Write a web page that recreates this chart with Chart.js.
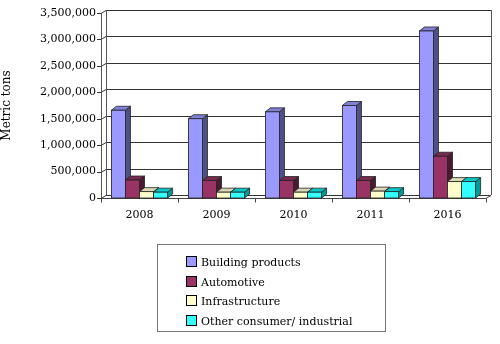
<!DOCTYPE html>
<html>
<head>
<meta charset="utf-8">
<script src="https://cdn.jsdelivr.net/npm/chart.js@4"></script>
<style>
    body { margin: 0; background: #fff; }
    #wrap { position: relative; width: 500px; height: 344px; }
    #legend {
        position: absolute; left: 157px; top: 244px; width: 229px; height: 88px;
        border: 1px solid #777; box-sizing: border-box;
        font: 11px "DejaVu Serif", serif; color: #000; padding-top: 8px;
    }
    .item { height: 19.5px; line-height: 19.5px; padding-left: 28px; white-space: nowrap; }
    .box { display: inline-block; width: 9px; height: 9px; border: 1px solid #000; margin-right: 4px; vertical-align: -1px; }
</style>
</head>
<body>
<div id="wrap">
    <canvas id="chart" width="500" height="344"></canvas>
    <div id="legend"></div>
</div>
<script>
// データ
const years = ['2008', '2009', '2010', '2011', '2016'];
const seriesNames = ['Building products', 'Automotive', 'Infrastructure', 'Other consumer/ industrial'];
const buildingProducts = [1660000, 1500000, 1630000, 1750000, 3160000];
const automotive = [340000, 330000, 330000, 330000, 790000];
const infrastructure = [120000, 110000, 110000, 130000, 310000];
const otherConsumer = [110000, 110000, 110000, 120000, 310000];
const yTicks = [0, 500000, 1000000, 1500000, 2000000, 2500000, 3000000, 3500000];

// 色（前面・側面・上面）
const frontColors = ['#9999ff', '#993366', '#ffffcc', '#33ffff'];
const sideColors = ['#505088', '#4a1a30', '#a8a888', '#009a9a'];
const topColors = ['#8080d8', '#7a2a50', '#dcd8b4', '#00caca'];

const FONT = '"DejaVu Serif", serif';
const WALL_DX = 5, WALL_DY = 3;   // 背面の奥行き
const BAR_DX = 5, BAR_DY = 4;     // 棒の奥行き

// 凡例（HTML）
const legend = document.getElementById('legend');
seriesNames.forEach((name, i) => {
    const div = document.createElement('div');
    div.className = 'item';
    div.innerHTML = '<span class="box" style="background:' + frontColors[i] + '"></span>' + name;
    legend.appendChild(div);
});

// 背面の壁とグリッド線
const wallPlugin = {
    id: 'wall',
    beforeDatasetsDraw(chart) {
        const { ctx, chartArea: a, scales: { x, y } } = chart;
        ctx.save();
        ctx.lineWidth = 1;
        // グリッド線
        ctx.strokeStyle = '#333';
        yTicks.forEach(v => {
            const py = Math.round(y.getPixelForValue(v)) + 0.5;
            ctx.beginPath();
            ctx.moveTo(a.left - 4, py);
            ctx.lineTo(a.left, py);
            ctx.lineTo(a.left + WALL_DX, py - WALL_DY);
            ctx.lineTo(a.right + WALL_DX, py - WALL_DY);
            ctx.stroke();
        });
        // 壁の枠
        ctx.strokeStyle = '#555';
        ctx.beginPath();
        ctx.moveTo(a.left + 0.5, a.top);
        ctx.lineTo(a.left + 0.5, a.bottom);
        ctx.moveTo(a.left + WALL_DX + 0.5, a.top - WALL_DY);
        ctx.lineTo(a.left + WALL_DX + 0.5, a.bottom - WALL_DY);
        ctx.moveTo(a.right + WALL_DX + 0.5, a.top - WALL_DY);
        ctx.lineTo(a.right + WALL_DX + 0.5, a.bottom - WALL_DY);
        ctx.stroke();
        // 床
        ctx.strokeStyle = '#444';
        ctx.beginPath();
        const fb = Math.round(a.bottom) + 0.5;
        ctx.moveTo(a.left, fb);
        ctx.lineTo(a.right, fb);
        ctx.lineTo(a.right + WALL_DX, fb - WALL_DY);
        // x軸の目盛り
        for (let i = 0; i <= years.length; i++) {
            const px = Math.round(a.left + (a.right - a.left) * i / years.length) + 0.5;
            ctx.moveTo(px, fb);
            ctx.lineTo(px, fb + 4);
        }
        ctx.stroke();
        ctx.restore();
    }
};

// 棒を立体的に描く
const bar3dPlugin = {
    id: 'bar3d',
    afterDatasetsDraw(chart) {
        const { ctx } = chart;
        ctx.save();
        ctx.lineWidth = 0.8;
        ctx.strokeStyle = '#222';
        for (let j = 0; j < years.length; j++) {
            chart.data.datasets.forEach((ds, i) => {
                const el = chart.getDatasetMeta(i).data[j];
                const l = el.x - el.width / 2, r = el.x + el.width / 2;
                const t = el.y, b = el.base;
                // 側面
                ctx.fillStyle = sideColors[i];
                ctx.beginPath();
                ctx.moveTo(r, t);
                ctx.lineTo(r + BAR_DX, t - BAR_DY);
                ctx.lineTo(r + BAR_DX, b - BAR_DY);
                ctx.lineTo(r, b);
                ctx.closePath();
                ctx.fill();
                ctx.stroke();
                // 上面
                ctx.fillStyle = topColors[i];
                ctx.beginPath();
                ctx.moveTo(l, t);
                ctx.lineTo(l + BAR_DX, t - BAR_DY);
                ctx.lineTo(r + BAR_DX, t - BAR_DY);
                ctx.lineTo(r, t);
                ctx.closePath();
                ctx.fill();
                ctx.stroke();
                // 前面
                ctx.fillStyle = frontColors[i];
                ctx.fillRect(l, t, r - l, b - t);
                ctx.strokeRect(l, t, r - l, b - t);
            });
        }
        ctx.restore();
    }
};

const allSeries = [buildingProducts, automotive, infrastructure, otherConsumer];

new Chart(document.getElementById('chart'), {
    type: 'bar',
    data: {
        labels: years,
        datasets: allSeries.map((values, i) => ({
            label: seriesNames[i],
            data: values,
            backgroundColor: frontColors[i],
            borderWidth: 0
        }))
    },
    options: {
        responsive: false,
        animation: false,
        events: [],
        layout: { padding: { left: 0, right: 14, top: 13, bottom: 116 } },
        datasets: { bar: { barPercentage: 1, categoryPercentage: 0.73 } },
        plugins: { legend: { display: false }, tooltip: { enabled: false } },
        scales: {
            x: {
                grid: { display: false, drawTicks: false },
                border: { display: false },
                ticks: { color: '#000', font: { family: FONT, size: 11 }, padding: 11, maxRotation: 0 },
                afterFit(s) { s.height = 30; }
            },
            y: {
                min: 0,
                max: 3500000,
                grid: { display: false, drawTicks: false },
                border: { display: false },
                afterBuildTicks(s) { s.ticks = yTicks.map(v => ({ value: v })); },
                ticks: {
                    color: '#000',
                    font: { family: FONT, size: 11 },
                    padding: 5,
                    callback: v => v.toLocaleString('en-US')
                },
                title: {
                    display: true,
                    text: 'Metric tons',
                    color: '#000',
                    font: { family: FONT, size: 12 },
                    padding: { top: 0, bottom: 0 }
                },
                afterFit(s) { s.width = 101; }
            }
        }
    },
    plugins: [wallPlugin, bar3dPlugin]
});
</script>
</body>
</html>
